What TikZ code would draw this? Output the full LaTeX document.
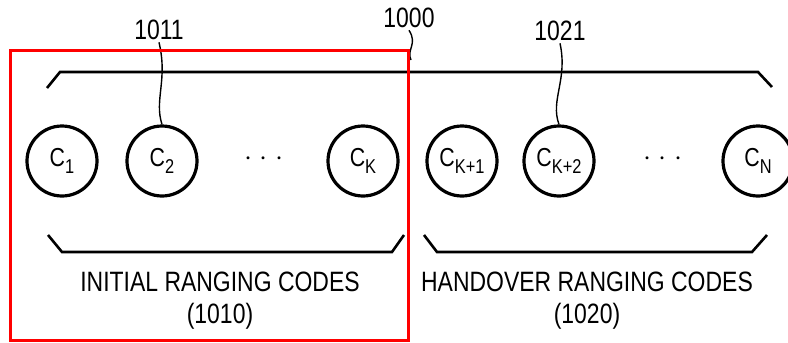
\documentclass[tikz,border=0pt]{standalone}
\usepackage{fontspec}
\setmainfont[FakeStretch=0.82]{Liberation Sans}
\newcommand\codesub[1]{\raisebox{-0.45ex}{\fontsize{10}{12}\selectfont#1}}

\begin{document}
\begin{tikzpicture}[x=0.5pt,y=-0.5pt,
  code/.style={circle,draw,line width=1.6pt,minimum size=35pt,inner sep=0pt,
    font=\fontsize{13}{15}\selectfont},
  refnum/.style={font=\fontsize{14}{16}\selectfont,inner sep=1pt},
  caption/.style={font=\fontsize{14}{16}\selectfont,align=center},
  brace/.style={line width=1.3pt},
  leader/.style={line width=0.7pt}]
\useasboundingbox (0,0) rectangle (788,343);
\node[code] (c1)  at (62,161)  {C\codesub{1}};
\node[code] (c2)  at (162,161) {C\codesub{2}};
\node[code] (ck)  at (363,161) {C\codesub{K}};
\node[code] (ck1) at (462,161) {C\codesub{K+1}};
\node[code] (ck2) at (559,161) {C\codesub{K+2}};
\node[code] (cn)  at (758,161) {C\codesub{N}};
\node[font=\Large] (dotsa) at (264,159) {$\cdot$\hspace{4pt}$\cdot$\hspace{4pt}$\cdot$};
\node[font=\Large] (dotsb) at (663,159) {$\cdot$\hspace{4pt}$\cdot$\hspace{4pt}$\cdot$};
\node[refnum] (n1011) at (159,30) {1011};
\node[refnum] (n1000) at (409,18) {1000};
\node[refnum] (n1021) at (560,31) {1021};
\coordinate (tip1000) at (411,60);
\draw[leader] (n1011.south) .. controls (168,80) and (154,100) .. (c2.north);
\draw[leader] (n1021.south) .. controls (568,80) and (550,100) .. (ck2.north);
\draw[leader] (n1000.south) .. controls (418,44) and (406,50) .. (tip1000);
\draw[brace] (47,88) -- (60,72) -- (758,72) -- (772,87);
\draw[brace] (48,235) -- (62,252) -- (392,252) -- (404,235);
\draw[brace] (424,235) -- (437,252) -- (752,252) -- (767,235);
\node[caption] (init) at (220,301) {INITIAL RANGING CODES\\(1010)};
\node[caption] (hand) at (587,301) {HANDOVER RANGING CODES\\(1020)};
\draw[red,line width=1.5pt] (10,50) rectangle (408,340);
\end{tikzpicture}
\end{document}
